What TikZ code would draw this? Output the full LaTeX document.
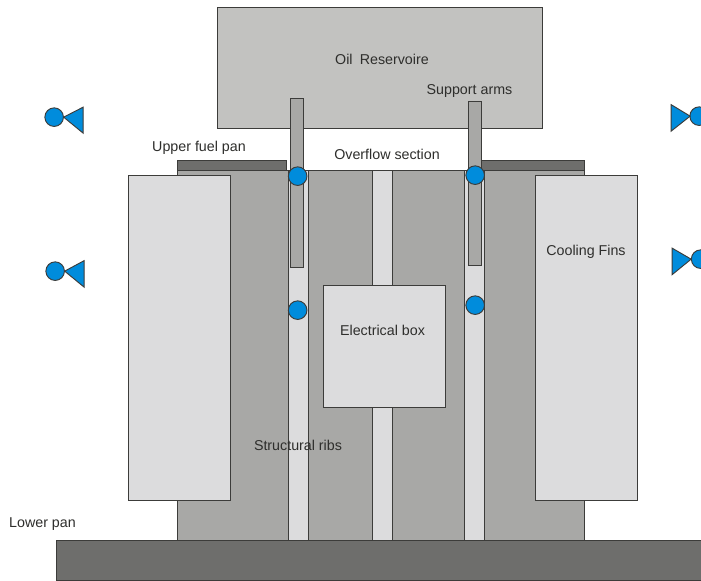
\documentclass[tikz,border=0pt]{standalone}
\usepackage{fontspec}
\setmainfont{Liberation Sans}
\definecolor{resgray}{HTML}{C2C2C0}
\definecolor{bodygray}{HTML}{A8A8A6}
\definecolor{pangray}{HTML}{6E6E6C}
\definecolor{lightgray2}{HTML}{DCDCDD}
\definecolor{edgegray}{HTML}{3C3C3A}
\definecolor{valveblue}{HTML}{008CDC}
\definecolor{txt}{HTML}{2E2E2C}
\tikzset{
  part/.style={draw=edgegray,line width=0.75pt},
  res/.style={part,fill=resgray},
  bodypart/.style={part,fill=bodygray},
  pan/.style={part,fill=pangray},
  light/.style={part,fill=lightgray2},
  blue/.style={draw=edgegray,line width=0.7pt,fill=valveblue},
  lbl/.style={font=\fontsize{10.7pt}{12pt}\selectfont,text=txt,inner sep=0pt}
}
\begin{document}
\begin{tikzpicture}[x=0.75pt,y=-0.75pt]
\useasboundingbox (0,0) rectangle (701,581);
\clip (0,0) rectangle (701,581);
\fill[white] (0,0) rectangle (701,581);
\begin{scope}[shift={(0.15,0.15)}]
% reservoir
\draw[res] (217,7) rectangle (542,128);
% upper pans and body
\draw[pan] (177,160) rectangle (286,170);
\draw[pan] (481,160) rectangle (584,170);
\draw[bodypart] (177,170) rectangle (584,540);
% ribs
\draw[light] (288,170) rectangle (308,540);
\draw[light] (372,170) rectangle (392,540);
\draw[light] (464.5,170) rectangle (484.5,540);
% arms
\draw[bodypart] (290.5,98) rectangle (303.5,267);
\draw[bodypart] (468.5,101) rectangle (481.5,265);
% fins and box
\draw[light] (128,175.5) rectangle (230,500.5);
\draw[light] (535,175.5) rectangle (637,500.5);
\draw[light] (323,285) rectangle (445,407);
% lower pan
\draw[pan] (56,540) rectangle (720,580.5);
% joints
\draw[blue] (297.5,176) circle (9.3);
\draw[blue] (475,175) circle (9.3);
\draw[blue] (297.5,310) circle (9.3);
\draw[blue] (475,305) circle (9.3);
% valves
\draw[blue] (54,117) circle (9.3);
\draw[blue] (63.5,117) -- (83,107) -- (83,133) -- cycle;
\draw[blue] (55,271) circle (9.3);
\draw[blue] (64.5,271) -- (84,260.5) -- (84,287) -- cycle;
\draw[blue] (699,116) circle (9.3);
\draw[blue] (671,104.5) -- (690,116) -- (671,131) -- cycle;
\draw[blue] (700.5,259) circle (9.3);
\draw[blue] (672,248) -- (691,259) -- (672,274.5) -- cycle;
\end{scope}
% labels
\node[lbl] (oil) at (382,59.5) {Oil\hspace{0.5em}Reservoire};
\node[lbl] (arms) at (469.5,91) {Support arms};
\node[lbl] (upper) at (199,147.5) {Upper fuel pan};
\node[lbl] (overflow) at (387,154.5) {Overflow section};
\node[lbl] (fins) at (586,252) {Cooling Fins};
\node[lbl] (ebox) at (382.5,330) {Electrical box};
\node[lbl] (ribs) at (298,445) {Structural ribs};
\node[lbl] (lower) at (42.5,524.5) {Lower pan};
\end{tikzpicture}
\end{document}
